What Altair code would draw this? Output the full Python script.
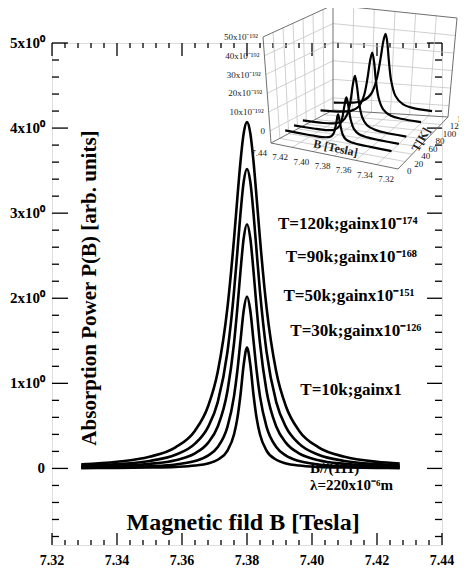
import altair as alt
import pandas as pd

SERIF = "Liberation Serif"
W, H = 390, 502          # plot area in px
ORIGIN = (52, 43)        # page position of plot area (8px page margin + padding)

# ---------------- main chart data ----------------
B = [7.329, 7.340, 7.350, 7.358, 7.364, 7.368, 7.371, 7.374, 7.376, 7.377, 7.378, 7.379, 7.380,
     7.381, 7.382, 7.383, 7.384, 7.386, 7.389, 7.392, 7.396, 7.402, 7.410, 7.420, 7.427]
P_T120 = [0.048, 0.078, 0.137, 0.248, 0.444, 0.728, 1.136, 1.895, 2.695, 3.162, 3.610, 3.944, 4.07,
          3.944, 3.610, 3.162, 2.695, 1.895, 1.136, 0.728, 0.444, 0.248, 0.137, 0.078, 0.057]
P_T90 = [0.031, 0.050, 0.088, 0.160, 0.291, 0.486, 0.780, 1.374, 2.077, 2.531, 2.999, 3.374, 3.52,
         3.374, 2.999, 2.531, 2.077, 1.374, 0.780, 0.486, 0.291, 0.160, 0.088, 0.050, 0.036]
P_T50 = [0.018, 0.030, 0.053, 0.096, 0.177, 0.300, 0.493, 0.914, 1.470, 1.869, 2.318, 2.709, 2.87,
         2.709, 2.318, 1.869, 1.470, 0.914, 0.493, 0.300, 0.177, 0.096, 0.053, 0.030, 0.022]
P_T30 = [0.009, 0.014, 0.026, 0.047, 0.087, 0.150, 0.252, 0.491, 0.847, 1.136, 1.501, 1.859, 2.02,
         1.859, 1.501, 1.136, 0.847, 0.491, 0.252, 0.150, 0.087, 0.047, 0.026, 0.014, 0.010]
P_T10 = [0.003, 0.006, 0.010, 0.018, 0.034, 0.059, 0.102, 0.210, 0.399, 0.582, 0.866, 1.224, 1.42,
         1.224, 0.866, 0.582, 0.399, 0.210, 0.102, 0.059, 0.034, 0.018, 0.010, 0.006, 0.004]
SERIES = ["T=10k", "T=30k", "T=50k", "T=90k", "T=120k"]

X_LABELS = [7.32, 7.34, 7.36, 7.38, 7.40, 7.42, 7.44]
Y_LABELS = [0, 1, 2, 3, 4, 5]
Y_TEXT = ["0", "1x10⁰", "2x10⁰", "3x10⁰", "4x10⁰", "5x10⁰"]
X_MINOR = [round(7.32 + 0.004 * k, 3) for k in range(31) if k % 5 != 0]
Y_MINOR = [round(-0.8 + 0.2 * k, 1) for k in range(29) if (k + 1) % 5 != 0]

LABELS = ["T=120k;gainx10⁻¹⁷⁴", "T=90k;gainx10⁻¹⁶⁸", "T=50k;gainx10⁻¹⁵¹",
          "T=30k;gainx10⁻¹²⁶", "T=10k;gainx1"]
LABEL_B = [7.4110, 7.4121, 7.4114, 7.4135, 7.4120]
LABEL_P = [2.87, 2.48, 2.03, 1.62, 0.92]
NOTE = ["B//(111)", "λ=220x10⁻⁶m"]
NOTE_B = [7.3994, 7.3994]
NOTE_P = [0.0, -0.195]

# ---------------- inset data ----------------
IN_T = [10, 30, 50, 90, 120]
IN_B = [7.430, 7.410, 7.400, 7.392, 7.387, 7.384, 7.382, 7.380, 7.378, 7.376, 7.373, 7.368, 7.360, 7.350, 7.330]
IN_P120 = [0.5, 1.4, 3.0, 7.3, 15.9, 27.0, 36.1, 40.7, 36.1, 27.0, 15.9, 7.3, 3.0, 1.4, 0.5]
IN_P90 = [0.3, 0.9, 1.9, 4.9, 11.3, 20.8, 30.0, 35.2, 30.0, 20.8, 11.3, 4.9, 1.9, 0.9, 0.3]
IN_P50 = [0.2, 0.5, 1.2, 3.0, 7.3, 14.7, 23.2, 28.7, 23.2, 14.7, 7.3, 3.0, 1.2, 0.5, 0.2]
IN_P30 = [0.1, 0.3, 0.6, 1.5, 3.9, 8.5, 15.0, 20.2, 15.0, 8.5, 3.9, 1.5, 0.6, 0.3, 0.1]
IN_P10 = [0.04, 0.1, 0.2, 0.6, 1.6, 4.0, 8.7, 14.2, 8.7, 4.0, 1.6, 0.6, 0.2, 0.1, 0.04]
IN_B_TICKS = [7.44, 7.42, 7.40, 7.38, 7.36, 7.34, 7.32]
IN_T_TICKS = [0, 20, 40, 60, 80, 100, 120, 140]
IN_P_TICKS = [0, 10, 20, 30, 40, 50]
IN_P_LABELS = ["0", "10x10⁻¹⁹²", "20x10⁻¹⁹²", "30x10⁻¹⁹²", "40x10⁻¹⁹²", "50x10⁻¹⁹²"]

# ---------------- inset projection (box corners in page px) ----------------
PMIN, PMAX = -6.5, 50.0
FLOOR = [(271, 143), (398, 169), (333, 110), (448, 117)]   # (u,v) = (0,0),(1,0),(0,1),(1,1)
ROOF = [(263, 37), (403, 64), (333, 5), (457, 18)]


def proj(b, t, p):
    u = (7.44 - b) / 0.12
    v = t / 140.0
    w = (p - PMIN) / (PMAX - PMIN)
    wt = [(1 - u) * (1 - v), u * (1 - v), (1 - u) * v, u * v]
    fx = sum(a * c[0] for a, c in zip(wt, FLOOR))
    fy = sum(a * c[1] for a, c in zip(wt, FLOOR))
    tx = sum(a * c[0] for a, c in zip(wt, ROOF))
    ty = sum(a * c[1] for a, c in zip(wt, ROOF))
    return fx + w * (tx - fx) - ORIGIN[0], fy + w * (ty - fy) - ORIGIN[1]


def seg_rows(rows, key, p0, p1):
    for i, pt in enumerate((p0, p1)):
        x, y = proj(*pt)
        rows.append({"sx": x, "sy": y, "seg": key, "o": i})


grid_rows, edge_rows = [], []
for t in IN_T_TICKS[1:-1]:
    seg_rows(grid_rows, f"lv{t}", (7.44, t, PMIN), (7.44, t, PMAX))
for p in IN_P_TICKS[:-1]:
    seg_rows(grid_rows, f"lh{p}", (7.44, 0, p), (7.44, 140, p))
for b in IN_B_TICKS[1:-1]:
    seg_rows(grid_rows, f"bv{b}", (b, 140, PMIN), (b, 140, PMAX))
for p in IN_P_TICKS[:-1]:
    seg_rows(grid_rows, f"bh{p}", (7.44, 140, p), (7.32, 140, p))
for b in IN_B_TICKS[1:-1]:
    seg_rows(grid_rows, f"fb{b}", (b, 0, PMIN), (b, 140, PMIN))
for t in IN_T_TICKS[1:-1]:
    seg_rows(grid_rows, f"ft{t}", (7.44, t, PMIN), (7.32, t, PMIN))
seg_rows(edge_rows, "e1", (7.44, 0, PMIN), (7.44, 0, PMAX))
seg_rows(edge_rows, "e2", (7.44, 140, PMIN), (7.44, 140, PMAX))
seg_rows(edge_rows, "e3", (7.32, 140, PMIN), (7.32, 140, PMAX))
seg_rows(edge_rows, "e4", (7.44, 0, PMAX), (7.44, 140, PMAX))
seg_rows(edge_rows, "e5", (7.44, 140, PMAX), (7.32, 140, PMAX))
seg_rows(edge_rows, "e6", (7.44, 0, PMIN), (7.32, 0, PMIN))
seg_rows(edge_rows, "e7", (7.32, 0, PMIN), (7.32, 140, PMIN))
seg_rows(edge_rows, "e8", (7.44, 0, PMIN), (7.44, 140, PMIN))
seg_rows(edge_rows, "e9", (7.44, 140, PMIN), (7.32, 140, PMIN))
grid_df = pd.DataFrame(grid_rows)
edge_df = pd.DataFrame(edge_rows)

in_rows = []
for t, vals in zip(IN_T, [IN_P10, IN_P30, IN_P50, IN_P90, IN_P120]):
    for i, (b, p) in enumerate(zip(IN_B, vals)):
        x, y = proj(b, t, p)
        in_rows.append({"sx": x, "sy": y, "T": str(t), "o": i})
in_df = pd.DataFrame(in_rows)

plab = [dict(zip(("sx", "sy"), proj(7.44, 0, p)), txt=s) for p, s in zip(IN_P_TICKS, IN_P_LABELS)]
blab = [dict(zip(("sx", "sy"), proj(b, 0, PMIN)), txt=f"{b:.2f}") for b in IN_B_TICKS]
tlab = [dict(zip(("sx", "sy"), proj(7.32, t, PMIN)), txt=str(t)) for t in IN_T_TICKS]
bt = dict(zip(("sx", "sy"), proj(7.375, 0, PMIN)), txt="B [Tesla]")
tt = dict(zip(("sx", "sy"), proj(7.32, 90, PMIN)), txt="T[K]")

# ---------------- main chart ----------------
xs = alt.Scale(domain=[7.32, 7.44], nice=False, zero=False)
ys = alt.Scale(domain=[-0.9, 5.0], nice=False, zero=False)
XB = alt.X("B:Q", scale=xs, axis=None)
YP = alt.Y("P:Q", scale=ys, axis=None)

rows = []
for name, vals in zip(SERIES, [P_T10, P_T30, P_T50, P_T90, P_T120]):
    for b, p in zip(B, vals):
        rows.append({"B": b, "P": p, "s": name})
df = pd.DataFrame(rows)

notes = alt.Chart(pd.DataFrame({"t": NOTE, "B": NOTE_B, "P": NOTE_P})).mark_text(
    font=SERIF, fontWeight="bold", fontSize=15, color="black", align="left", baseline="middle"
).encode(x=XB, y=YP, text="t:N")

curves = alt.Chart(df).mark_line(color="black", strokeWidth=2.6, interpolate="monotone").encode(
    x=XB, y=YP, detail="s:N")

labels = alt.Chart(pd.DataFrame({"t": LABELS, "B": LABEL_B, "P": LABEL_P})).mark_text(
    font=SERIF, fontWeight="bold", fontSize=17, color="black", align="center", baseline="middle"
).encode(x=XB, y=YP, text="t:N")

xtitle = alt.Chart(pd.DataFrame({"t": ["Magnetic fild B [Tesla]"], "B": [7.3788], "P": [-0.64]})).mark_text(
    font=SERIF, fontWeight="bold", fontSize=24, color="black", align="center", baseline="middle"
).encode(x=XB, y=YP, text="t:N")

ytitle = alt.Chart(pd.DataFrame({"t": ["Absorption Power P(B) [arb. units]"], "B": [7.3317], "P": [2.12]})).mark_text(
    font=SERIF, fontWeight="bold", fontSize=21, color="black", align="center", baseline="middle", angle=270
).encode(x=XB, y=YP, text="t:N")

xlab = alt.Chart(pd.DataFrame({"v": X_LABELS, "t": [f"{v:.2f}" for v in X_LABELS]})).mark_text(
    font=SERIF, fontWeight="bold", fontSize=14, color="black", align="center", baseline="middle"
).encode(x=alt.X("v:Q", scale=xs, axis=None), y=alt.value(H + 16), text="t:N")

ylab = alt.Chart(pd.DataFrame({"v": Y_LABELS, "t": Y_TEXT})).mark_text(
    font=SERIF, fontWeight="bold", fontSize=15, color="black", align="right", baseline="middle"
).encode(y=alt.Y("v:Q", scale=ys, axis=None), x=alt.value(-7), text="t:N")


def yticks(vals, x0, x1):
    return alt.Chart(pd.DataFrame({"v": vals})).mark_rule(color="black", strokeWidth=1.3).encode(
        y=alt.Y("v:Q", scale=ys, axis=None), x=alt.value(x0), x2=alt.value(x1))


def xticks(vals, y0, y1):
    return alt.Chart(pd.DataFrame({"v": vals})).mark_rule(color="black", strokeWidth=1.3).encode(
        x=alt.X("v:Q", scale=xs, axis=None), y=alt.value(y0), y2=alt.value(y1))


main = alt.layer(
    notes, curves, labels, xtitle, ytitle, xlab, ylab,
    yticks(Y_LABELS, 0, 16), yticks(Y_MINOR, 0, 7),
    yticks(Y_LABELS, W, W - 15), yticks(Y_MINOR, W, W - 7),
    xticks(X_LABELS, H, H - 12), xticks(X_MINOR, H, H - 5),
    xticks(X_LABELS, 0, 13), xticks(X_MINOR, 0, 5),
)

# ---------------- inset ----------------
ix = alt.Scale(domain=[0, W], range=[0, W], nice=False, zero=False)
iy = alt.Scale(domain=[0, H], range=[0, H], nice=False, zero=False)
X_ = alt.X("sx:Q", scale=ix, axis=None)
Y_ = alt.Y("sy:Q", scale=iy, axis=None)

grid = alt.Chart(grid_df).mark_line(color="#c4c4c4", strokeWidth=0.8).encode(
    x=X_, y=Y_, detail="seg:N", order="o:Q")
edges = alt.Chart(edge_df).mark_line(color="#707070", strokeWidth=1).encode(
    x=X_, y=Y_, detail="seg:N", order="o:Q")
in_curves = alt.Chart(in_df).mark_line(color="black", strokeWidth=2.2, interpolate="cardinal").encode(
    x=X_, y=Y_, detail="T:N", order="o:Q")
in_p = alt.Chart(pd.DataFrame(plab)).mark_text(
    font=SERIF, fontSize=9, color="#222", align="right", baseline="middle", dx=-5
).encode(x=X_, y=Y_, text="txt:N")
in_b = alt.Chart(pd.DataFrame(blab)).mark_text(
    font=SERIF, fontSize=9, color="#222", align="center", baseline="middle", dx=-12, dy=10
).encode(x=X_, y=Y_, text="txt:N")
in_t = alt.Chart(pd.DataFrame(tlab)).mark_text(
    font=SERIF, fontSize=9, color="#222", align="left", baseline="middle", dx=9, dy=2
).encode(x=X_, y=Y_, text="txt:N")
in_bt = alt.Chart(pd.DataFrame([bt])).mark_text(
    font=SERIF, fontSize=12, fontWeight="bold", color="#222", align="center", baseline="middle",
    angle=12, dx=-6, dy=-8
).encode(x=X_, y=Y_, text="txt:N")
in_tt = alt.Chart(pd.DataFrame([tt])).mark_text(
    font=SERIF, fontSize=12, fontWeight="bold", color="#222", align="center", baseline="middle",
    angle=300, dx=-8, dy=-6
).encode(x=X_, y=Y_, text="txt:N")

inset = alt.layer(grid, edges, in_curves, in_p, in_b, in_t, in_bt, in_tt)

chart = alt.layer(main, inset).resolve_scale(x="independent", y="independent").properties(
    width=W, height=H,
    autosize=alt.AutoSizeParams(type="none"),
    padding={"left": 44, "top": 35, "right": 17, "bottom": 26},
).configure_view(stroke="#222", strokeWidth=1.5).configure(background="white")

chart.save("out.html", embed_options={"renderer": "svg", "actions": False})
